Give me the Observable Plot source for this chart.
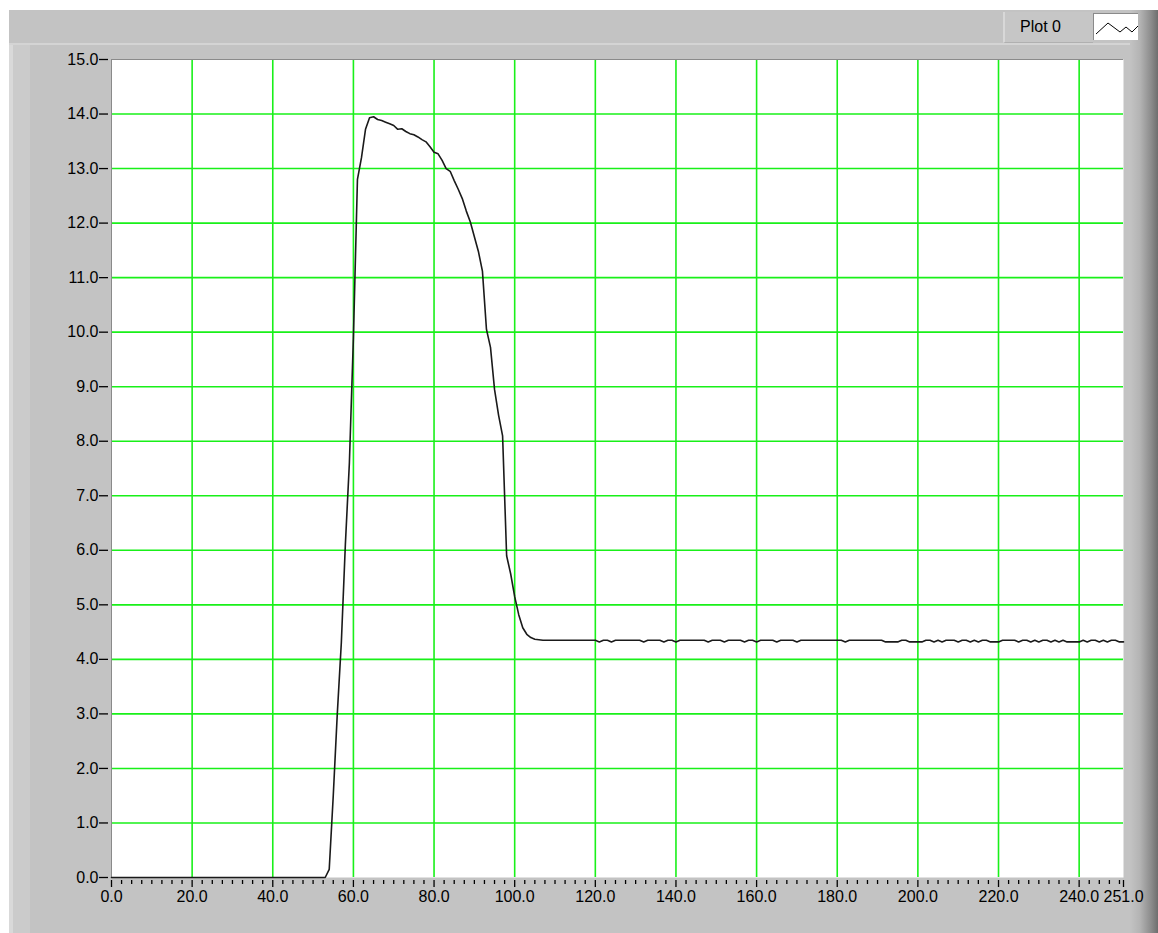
<!DOCTYPE html>
<html>
<head>
<meta charset="utf-8">
<script src="https://cdn.jsdelivr.net/npm/d3@7"></script>
<script src="https://cdn.jsdelivr.net/npm/@observablehq/plot@0.6"></script>
<style>
  html, body { margin: 0; padding: 0; background: #fff; }
  #wrap { position: relative; width: 1158px; height: 933px; overflow: hidden; background: #fff; font-family: "Liberation Sans", Arial, sans-serif; }
  .abs { position: absolute; }
  #chart { position: absolute; left: 0; top: 0; }
</style>
</head>
<body>
<div id="wrap">
  <div class="abs" style="left:9px;top:10px;right:0;bottom:0;background:#c3c3c3"></div>
  <div class="abs" style="left:9px;top:43px;width:1122px;height:2px;background:#d4d4d4"></div>
  <div class="abs" style="left:9px;top:45px;width:4px;bottom:0;background:#d9d9d9"></div>
  <div class="abs" style="left:13px;top:45px;width:17px;bottom:0;background:#cbcbcb"></div>
  <div class="abs" style="left:1130px;top:10px;width:28px;bottom:0;background:linear-gradient(to right,#c3c3c3 0%,#b4b4b4 35%,#8c8c8c 75%,#6e6e6e 100%)"></div>
  <div class="abs" style="left:1003px;top:12px;width:88px;height:30px;background:#c6c6c6;border-left:2px solid #d8d8d8;border-bottom:1px solid #b0b0b0"></div>
  <div class="abs" style="left:1020px;top:18px;font-size:16px;line-height:18px;color:#000;font-family:'Liberation Sans',Arial,sans-serif">Plot 0</div>
  <div class="abs" style="left:1093px;top:13px;width:44px;height:26px;background:#fff;border-top:1px solid #8a8a8a;border-left:1px solid #8a8a8a">
    <svg width="44" height="26" style="display:block"><polyline points="2,20 14,9 26,18 32,13 38,18 44,12" fill="none" stroke="#000" stroke-width="1"/></svg>
  </div>
  <div id="chart"></div>
</div>
<script>
// ---- data ----
const xs = d3.range(0, 252); // sample index 0..251
const values = [
  0,0,0,0,0,0,0,0,0,0,
  0,0,0,0,0,0,0,0,0,0,
  0,0,0,0,0,0,0,0,0,0,
  0,0,0,0,0,0,0,0,0,0,
  0,0,0,0,0,0,0,0,0,0,
  0,0,0,0,0.15,1.5,3.0,4.3,6.1,7.6,
  9.9,12.8,13.2,13.72,13.93,13.95,13.9,13.88,13.85,13.82,
  13.79,13.72,13.73,13.68,13.64,13.62,13.58,13.53,13.49,13.4,
  13.3,13.27,13.15,13.0,12.95,12.78,12.62,12.45,12.22,12.02,
  11.75,11.48,11.12,10.05,9.72,8.95,8.48,8.1,5.9,5.57,
  5.15,4.82,4.58,4.46,4.4,4.37,4.36,4.35,4.35,4.35,
  4.35,4.35,4.35,4.35,4.35,4.35,4.35,4.35,4.35,4.35,
  4.35,4.32,4.35,4.35,4.32,4.35,4.35,4.35,4.35,4.35,
  4.35,4.35,4.32,4.35,4.35,4.35,4.35,4.32,4.35,4.35,
  4.32,4.35,4.35,4.35,4.35,4.35,4.35,4.35,4.32,4.35,
  4.35,4.35,4.32,4.35,4.35,4.35,4.35,4.32,4.35,4.35,
  4.32,4.35,4.35,4.35,4.35,4.32,4.35,4.35,4.35,4.35,
  4.32,4.35,4.35,4.35,4.35,4.35,4.35,4.35,4.35,4.35,
  4.35,4.35,4.32,4.35,4.35,4.35,4.35,4.35,4.35,4.35,
  4.35,4.35,4.32,4.32,4.32,4.32,4.35,4.35,4.32,4.32,
  4.32,4.32,4.35,4.35,4.32,4.35,4.32,4.35,4.35,4.35,
  4.32,4.35,4.35,4.32,4.35,4.32,4.35,4.35,4.32,4.32,
  4.32,4.35,4.35,4.35,4.35,4.32,4.35,4.35,4.32,4.35,
  4.32,4.35,4.35,4.32,4.35,4.32,4.35,4.32,4.32,4.32,
  4.32,4.35,4.32,4.35,4.35,4.32,4.35,4.32,4.35,4.35,
  4.32,4.32
];
const xMajorTicks = [0, 20, 40, 60, 80, 100, 120, 140, 160, 180, 200, 220, 240, 251];
const xMinorTicks = d3.range(0, 251, 2.5).filter(v => v % 20 !== 0);
const xGridValues = [20, 40, 60, 80, 100, 120, 140, 160, 180, 200, 220, 240];
const yTicks = [0, 1, 2, 3, 4, 5, 6, 7, 8, 9, 10, 11, 12, 13, 14, 15];
const yGridValues = [1, 2, 3, 4, 5, 6, 7, 8, 9, 10, 11, 12, 13, 14];

const data = xs.map((x, i) => ({x, y: values[i]}));

const green = "#19f019";
const chart = Plot.plot({
  width: 1158,
  height: 933,
  marginLeft: 111,
  marginRight: 35,
  marginTop: 59,
  marginBottom: 56,
  style: {background: "transparent", fontFamily: "'Liberation Sans', Arial, sans-serif", fontSize: "16px", color: "#000", overflow: "visible"},
  x: {domain: [0, 251], label: null},
  y: {domain: [0, 15], label: null},
  marks: [
    Plot.frame({fill: "white", stroke: null}),
    Plot.gridX(xGridValues, {stroke: green, strokeOpacity: 1, strokeWidth: 1.6}),
    Plot.gridY(yGridValues, {stroke: green, strokeOpacity: 1, strokeWidth: 1.6}),
    Plot.ruleY([15], {stroke: "#8a8a8a", strokeWidth: 1}),
    Plot.ruleX([0], {stroke: "#8a8a8a", strokeWidth: 1}),
    Plot.axisX(xMinorTicks, {tickSize: 4, tickFormat: () => "", label: null, dy: 3, stroke: "#000", strokeWidth: 1.3}),
    Plot.axisX(xMajorTicks, {tickSize: 7, tickPadding: 3, dy: 3, label: null, tickFormat: d => d.toFixed(1), stroke: "#000", strokeWidth: 1.3, fill: "#000", fontSize: 16}),
    Plot.axisY(yTicks, {tickSize: 9, tickPadding: 1, dx: -3, label: null, tickFormat: d => d.toFixed(1), stroke: "#000", strokeWidth: 1.3, fill: "#000", fontSize: 16}),
    Plot.line(data, {x: "x", y: "y", stroke: "#1a1a1a", strokeWidth: 1.6, curve: "linear"})
  ]
});
document.getElementById("chart").appendChild(chart);
</script>
</body>
</html>
